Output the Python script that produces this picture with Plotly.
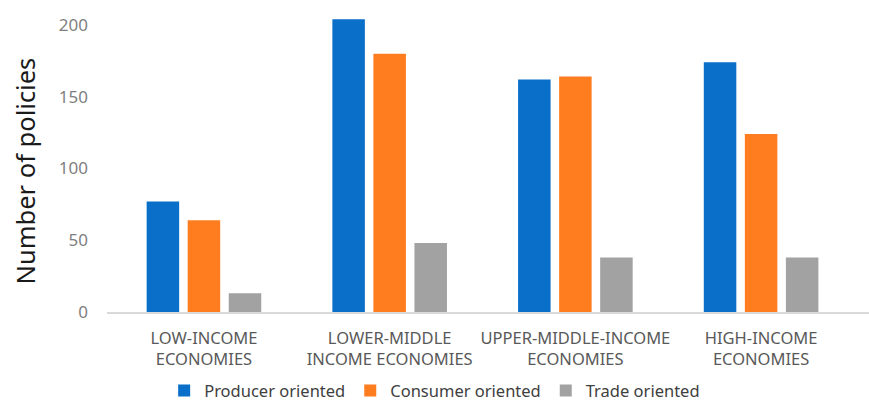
import plotly.graph_objects as go

categories = ["LOW-INCOME<br>ECONOMIES", "LOWER-MIDDLE<br>INCOME ECONOMIES",
              "UPPER-MIDDLE-INCOME<br>ECONOMIES", "HIGH-INCOME<br>ECONOMIES"]
producer = [77, 204, 162, 174]
consumer = [64, 180, 164, 124]
trade = [13, 48, 38, 38]
y_ticks = [0, 50, 100, 150, 200]
y_title = "Number of policies"

series = [
    ("Producer oriented", producer, "#0A6FC8"),
    ("Consumer oriented", consumer, "#FF7D1F"),
    ("Trade oriented", trade, "#A2A2A2"),
]

fig = go.Figure()
for name, vals, col in series:
    fig.add_trace(go.Bar(x=categories, y=vals, name=name,
                         marker=dict(color=col, line=dict(width=0))))

fig.update_layout(
    width=869, height=405,
    margin=dict(l=107, r=0, t=5, b=93, autoexpand=False),
    paper_bgcolor="white", plot_bgcolor="white",
    barmode="group", bargap=0.337, bargroupgap=0.208,
    font=dict(family="Noto Sans, Open Sans, sans-serif", color="#595959"),
    legend=dict(orientation="h", x=0.075, xanchor="left", y=-0.257, yanchor="middle",
                font=dict(size=16.5, color="#404040"), itemwidth=30,
                traceorder="normal"),
    showlegend=True,
    annotations=[dict(text=y_title, textangle=-90, xref="paper", yref="paper",
                      x=-0.108, xanchor="center", y=0.46, yanchor="middle",
                      showarrow=False, font=dict(size=25.5, color="#1A1A1A"))],
)
fig.update_xaxes(type="category", range=[-0.522, 3.581], showline=True,
                 linecolor="#D9D9D9", linewidth=1.5, ticks="",
                 ticklabelstandoff=10, automargin=False,
                 tickfont=dict(size=16.5, color="#595959"), showgrid=False)
fig.update_yaxes(range=[0, 213.9], tickvals=y_ticks, showgrid=False, zeroline=False,
                 showline=False, tickfont=dict(size=17, color="#7F7F7F"),
                 ticklabelstandoff=18, automargin=False)

fig.write_html("out.html", config={"displayModeBar": False},
               post_script="document.body.style.margin='0';")
